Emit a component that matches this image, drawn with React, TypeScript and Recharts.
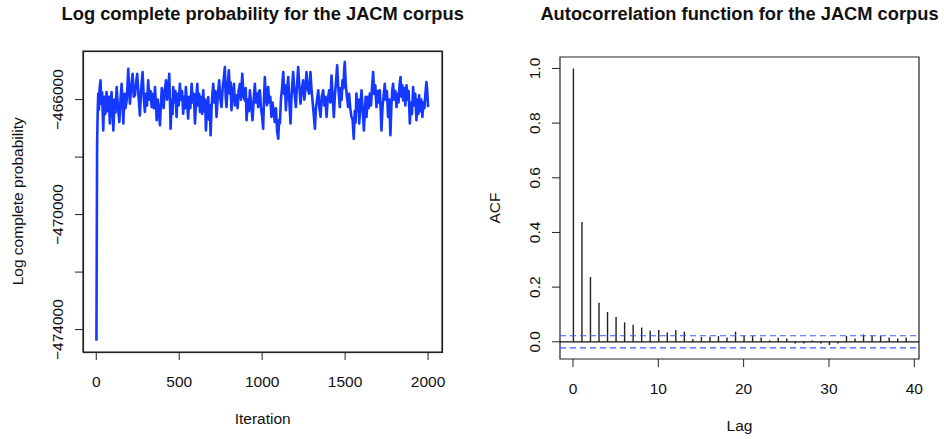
import React from 'react'
import {
  ComposedChart,
  Line,
  Bar,
  XAxis,
  YAxis,
  ReferenceLine,
  ReferenceArea,
} from 'recharts'

// trace of the log complete probability
const iterations = [
  1, 3, 5, 7, 9, 12, 16, 20, 26, 30,
  35, 42, 48, 54, 62, 68, 75, 82, 87, 92,
  97, 103, 110, 116, 123, 130, 139, 146, 153, 158,
  163, 170, 176, 183, 188, 193, 198, 203, 210, 219,
  226, 233, 240, 247, 255, 263, 270, 279, 286, 293,
  300, 306, 313, 320, 327, 334, 340, 347, 354, 359,
  364, 370, 377, 384, 390, 395, 400, 406, 413, 420,
  427, 434, 440, 444, 448, 455, 460, 464, 470, 477,
  484, 490, 497, 504, 510, 517, 524, 530, 535, 540,
  547, 554, 560, 567, 575, 581, 588, 595, 602, 609,
  614, 620, 625, 632, 638, 645, 650, 656, 661, 668,
  675, 680, 685, 689, 695, 700, 705, 711, 718, 725,
  733, 741, 748, 755, 762, 768, 775, 780, 785, 792,
  799, 806, 810, 815, 822, 830, 836, 841, 846, 852,
  858, 866, 872, 880, 888, 896, 901, 906, 913, 920,
  926, 934, 942, 949, 956, 962, 969, 976, 981, 986,
  993, 1000, 1006, 1011, 1016, 1022, 1029, 1036, 1042, 1049,
  1056, 1062, 1069, 1076, 1083, 1090, 1097, 1102, 1107, 1113,
  1120, 1127, 1133, 1138, 1143, 1150, 1157, 1163, 1171, 1176,
  1181, 1187, 1194, 1203, 1209, 1217, 1224, 1231, 1238, 1247,
  1254, 1260, 1267, 1274, 1283, 1291, 1298, 1307, 1312, 1318,
  1324, 1331, 1338, 1345, 1352, 1359, 1368, 1374, 1381, 1388,
  1395, 1404, 1411, 1418, 1425, 1432, 1438, 1445, 1452, 1458,
  1463, 1468, 1474, 1479, 1484, 1490, 1494, 1498, 1504, 1511,
  1518, 1524, 1531, 1538, 1545, 1552, 1558, 1563, 1568, 1575,
  1580, 1585, 1592, 1599, 1605, 1613, 1620, 1624, 1629, 1636,
  1642, 1649, 1656, 1662, 1669, 1675, 1682, 1689, 1695, 1702,
  1709, 1714, 1719, 1726, 1732, 1739, 1745, 1752, 1759, 1766,
  1773, 1779, 1784, 1789, 1796, 1803, 1810, 1816, 1822, 1828,
  1834, 1840, 1845, 1850, 1857, 1863, 1870, 1877, 1883, 1890,
  1897, 1903, 1910, 1916, 1923, 1930, 1936, 1941, 1946, 1953,
  1959, 1966, 1972, 1978, 1984, 1990, 1995, 2000,
]
const logProb = [
  -474390, -471000, -467600, -466900, -466300, -465790, -466350, -465600, -465330, -466150,
  -465750, -467070, -465900, -466500, -465740, -466400, -465900, -466830, -466100, -465740,
  -466300, -467070, -466000, -466450, -465560, -466200, -466780, -466000, -465450, -466100,
  -466830, -465800, -466300, -466030, -465500, -464930, -465700, -466140, -465600, -465100,
  -465900, -465850, -465400, -465100, -465900, -466550, -465700, -465040, -465900, -466430,
  -465800, -466200, -465330, -466000, -465700, -466260, -465800, -466300, -465560, -466100,
  -466720, -466000, -466400, -466890, -466100, -465600, -465790, -466300, -465700, -465330,
  -466000, -465600, -465100, -466000, -467010, -466000, -466500, -465560, -466100, -465700,
  -466600, -465800, -466200, -465450, -466000, -465700, -466490, -465900, -466300, -465560,
  -466100, -466660, -465900, -466300, -465450, -466100, -465800, -466830, -466000, -465450,
  -466200, -465800, -466430, -465900, -466500, -465680, -466400, -466000, -467070, -466200,
  -465910, -466700, -466200, -467240, -466300, -465800, -465450, -466100, -465700, -466600,
  -465800, -465330, -466000, -466260, -465600, -465300, -464870, -465900, -466260, -465500,
  -464980, -465800, -465400, -466370, -465800, -465450, -466200, -465900, -465850, -466300,
  -465700, -465450, -466000, -465100, -465900, -466030, -465600, -466720, -466000, -466400,
  -465680, -466200, -466720, -466000, -465450, -466100, -465800, -466260, -465700, -465680,
  -466300, -466600, -467010, -466000, -465220, -465900, -466200, -465560, -466100, -465900,
  -466600, -466100, -466400, -466780, -466300, -467100, -467360, -466700, -466830, -466000,
  -465600, -465040, -465800, -465500, -466370, -465700, -465220, -466000, -466830, -466000,
  -465500, -465040, -465700, -466260, -465600, -464870, -465500, -466140, -465700, -465330,
  -466000, -465700, -465040, -465600, -465790, -465040, -465700, -466260, -466600, -467010,
  -466300, -466000, -465680, -466300, -466600, -465900, -465680, -466200, -465900, -466600,
  -466000, -465680, -466100, -465160, -465900, -466600, -465900, -465400, -464810, -465500,
  -465900, -466260, -465600, -466000, -465330, -465600, -465000, -464690, -465500, -465900,
  -466260, -465800, -466300, -466600, -466700, -467360, -466400, -466800, -465790, -466400,
  -466000, -466830, -466200, -465680, -466300, -467070, -466300, -465900, -466600, -465900,
  -466300, -465790, -466200, -465600, -465040, -465800, -465500, -466260, -465700, -466100,
  -465680, -466300, -467070, -466200, -465900, -465450, -466000, -465700, -466600, -466000,
  -467240, -466200, -465700, -465450, -466000, -465700, -466260, -465800, -466100, -465500,
  -465220, -465900, -465500, -466030, -465600, -466200, -465500, -466000, -465700, -466830,
  -466100, -466500, -465560, -466200, -465800, -466720, -466000, -466500, -465850, -466400,
  -466000, -466600, -466100, -466300, -465800, -465390, -465700, -466260,
]
const iterTicks = [0, 500, 1000, 1500, 2000]
const probTicks = [-474000, -472000, -470000, -468000, -466000]
const probLabelled = [-474000, -470000, -466000]

// autocorrelation by lag
const lags = [
  0, 1, 2, 3, 4, 5, 6, 7, 8, 9, 10, 11, 12, 13, 14, 15, 16, 17, 18, 19,
  20, 21, 22, 23, 24, 25, 26, 27, 28, 29, 30, 31, 32, 33, 34, 35, 36, 37, 38, 39,
]
const acf = [
  1.0, 0.438, 0.237, 0.143, 0.109, 0.091, 0.071, 0.062, 0.052, 0.04, 0.043, 0.034, 0.043,
  0.037, 0.01, 0.018, 0.018, 0.021, 0.016, 0.037, 0.021, 0.021, 0.016, 0.005, 0.015, 0.012,
  -0.006, -0.006, 0.005, -0.006, -0.012, -0.006, 0.021, 0.012, 0.027, 0.024, 0.021, 0.016,
  0.012, 0.016,
]
const ciBound = 0.022
const lagTicks = [0, 10, 20, 30, 40]
const acfTicks = [0, 0.2, 0.4, 0.6, 0.8, 1.0]

const FONT = '"Liberation Sans", Arial, Helvetica, sans-serif'
const INK = '#111'
const FRAME = '#222'

const traceDomainX: [number, number] = [-80, 2084]
const traceDomainY: [number, number] = [-474780, -464310]
const acfDomainX: [number, number] = [-1.52, 40.55]
const acfDomainY: [number, number] = [-0.063, 1.042]

// plot region of the trace panel; the chart margins and its frame both come from here
const TRACE_W = 470
const TRACE_H = 439
const TRACE_PLOT = { left: 83, top: 51, right: 442, bottom: 352 }
const X_AXIS_H = 30

const fmtMinus = (v: number) => (v < 0 ? '\u2212' + Math.abs(v) : String(v))

// eslint-disable-next-line @typescript-eslint/no-explicit-any
function BottomTick({ x, y, payload }: any) {
  return (
    <text x={x} y={y} dy="0.71em" textAnchor="middle" fontSize={15.5} fill={INK} fontFamily={FONT}>
      {String(payload.value)}
    </text>
  )
}

function makeLeftTick(format: (v: number) => string) {
  // eslint-disable-next-line @typescript-eslint/no-explicit-any
  return function LeftTick({ x, y, payload }: any) {
    const label = format(payload.value)
    if (!label) return <g />
    return (
      <text
        transform={`translate(${x},${y}) rotate(-90)`}
        textAnchor="middle"
        fontSize={15.5}
        fill={INK}
        fontFamily={FONT}
      >
        {label}
      </text>
    )
  }
}

const ProbTick = makeLeftTick((v) => (probLabelled.includes(v) ? fmtMinus(v) : ''))
const AcfTick = makeLeftTick((v) => v.toFixed(1))

export default function App() {
  const traceData = iterations.map((it, i) => ({ iter: it, lp: logProb[i] }))
  const acfData = lags.map((l, i) => ({ lag: l, acf: acf[i] }))

  return (
    <div
      style={{
        position: 'fixed',
        left: 0,
        top: 0,
        width: 944,
        height: 439,
        background: '#fff',
        overflow: 'hidden',
        fontFamily: FONT,
      }}
    >
      {/* Trace panel */}
      <div style={{ position: 'absolute', left: 0, top: 0 }}>
        <ComposedChart
          id="trace-panel"
          width={TRACE_W}
          height={TRACE_H}
          data={traceData}
          margin={{
            top: TRACE_PLOT.top,
            right: TRACE_W - TRACE_PLOT.right,
            bottom: TRACE_H - TRACE_PLOT.bottom - X_AXIS_H,
            left: 0,
          }}
        >
          <XAxis
            dataKey="iter"
            type="number"
            domain={traceDomainX}
            ticks={iterTicks}
            allowDataOverflow
            axisLine={false}
            tickLine={{ stroke: FRAME }}
            tickSize={8}
            tickMargin={16}
            height={X_AXIS_H}
            tick={<BottomTick />}
          />
          <YAxis
            type="number"
            domain={traceDomainY}
            ticks={probTicks}
            allowDataOverflow
            axisLine={false}
            tickLine={{ stroke: FRAME }}
            tickSize={8}
            tickMargin={12}
            width={TRACE_PLOT.left}
            tick={<ProbTick />}
          />
          <ReferenceArea
            x1={traceDomainX[0]}
            x2={traceDomainX[1]}
            y1={traceDomainY[0]}
            y2={traceDomainY[1]}
            fill="none"
            stroke={FRAME}
            strokeWidth={1.2}
            ifOverflow="visible"
          />
          <Line
            dataKey="lp"
            type="linear"
            stroke="#1438ff"
            strokeWidth={2.6}
            strokeLinejoin="round"
            dot={false}
            isAnimationActive={false}
          />
        </ComposedChart>
      </div>

      {/* ACF panel */}
      <div style={{ position: 'absolute', left: 472, top: 0 }}>
        <ComposedChart
          id="acf-panel"
          width={472}
          height={439}
          data={acfData}
          margin={{ top: 57, right: 25, bottom: 50, left: 0 }}
        >
          <XAxis
            dataKey="lag"
            type="number"
            domain={acfDomainX}
            ticks={lagTicks}
            allowDataOverflow
            axisLine={false}
            tickLine={{ stroke: FRAME }}
            tickSize={8}
            tickMargin={16}
            height={X_AXIS_H}
            tick={<BottomTick />}
          />
          <YAxis
            type="number"
            domain={acfDomainY}
            ticks={acfTicks}
            allowDataOverflow
            axisLine={false}
            tickLine={{ stroke: FRAME }}
            tickSize={8}
            tickMargin={12}
            width={88}
            tick={<AcfTick />}
          />
          <ReferenceArea
            x1={acfDomainX[0]}
            x2={acfDomainX[1]}
            y1={acfDomainY[0]}
            y2={acfDomainY[1]}
            fill="none"
            stroke={FRAME}
            strokeWidth={1.2}
            ifOverflow="visible"
          />
          <ReferenceLine y={ciBound} stroke="#3b5bff" strokeDasharray="6 4" strokeWidth={1.2} />
          <ReferenceLine y={-ciBound} stroke="#3b5bff" strokeDasharray="6 4" strokeWidth={1.2} />
          <ReferenceLine y={0} stroke="#111" strokeWidth={1.2} />
          <Bar dataKey="acf" barSize={1.4} fill="#222" isAnimationActive={false} />
        </ComposedChart>
      </div>

      {/* Titles, axis labels and the trace panel's box */}
      <svg
        width={944}
        height={439}
        style={{ position: 'absolute', left: 0, top: 0, pointerEvents: 'none' }}
        fontFamily={FONT}
        fill={INK}
      >
        <rect
          x={TRACE_PLOT.left + 0.5}
          y={TRACE_PLOT.top + 0.5}
          width={TRACE_PLOT.right - TRACE_PLOT.left}
          height={TRACE_PLOT.bottom - TRACE_PLOT.top}
          fill="none"
          stroke={FRAME}
          strokeWidth={1.2}
        />
        <text x={262.7} y={20} textAnchor="middle" fontSize={18.3} fontWeight="bold">
          Log complete probability for the JACM corpus
        </text>
        <text x={739.5} y={20} textAnchor="middle" fontSize={18.3} fontWeight="bold">
          Autocorrelation function for the JACM corpus
        </text>
        <text x={262.7} y={424} textAnchor="middle" fontSize={15.5}>
          Iteration
        </text>
        <text x={739.5} y={431} textAnchor="middle" fontSize={15.5}>
          Lag
        </text>
        <text transform="translate(23,201.3) rotate(-90)" textAnchor="middle" fontSize={15.5}>
          Log complete probability
        </text>
        <text transform="translate(500,208) rotate(-90)" textAnchor="middle" fontSize={15.5}>
          ACF
        </text>
      </svg>
    </div>
  )
}
